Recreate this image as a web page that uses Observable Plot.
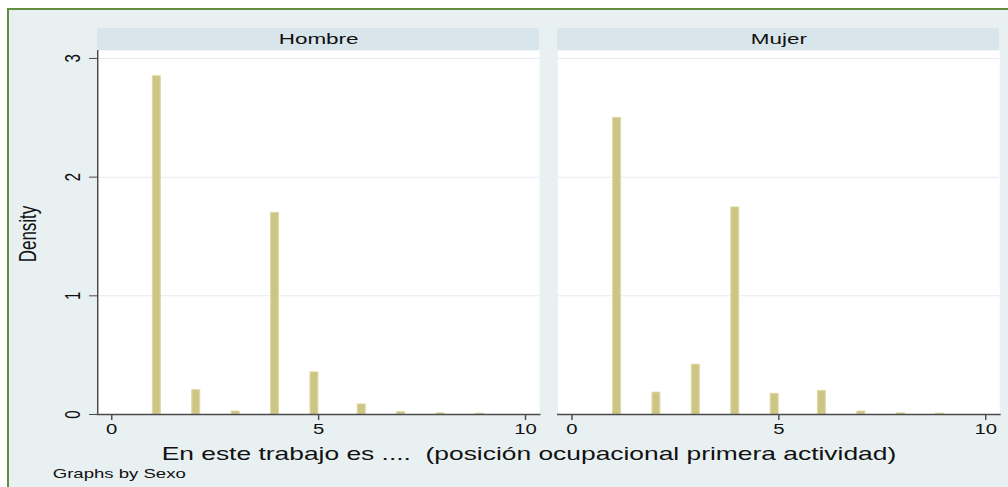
<!DOCTYPE html>
<html>
<head>
<meta charset="utf-8">
<script src="https://cdn.jsdelivr.net/npm/d3@7"></script>
<script src="https://cdn.jsdelivr.net/npm/@observablehq/plot@0.6"></script>
<style>
  html, body { margin: 0; padding: 0; background: #ffffff; }
  #wrap { position: relative; width: 1008px; height: 487px; overflow: hidden; }
  #bg { position: absolute; left: 7px; top: 8px; right: 0; bottom: 0;
        background: #e8f0f2; border-left: 2px solid #5f8f3f; border-top: 2px solid #5f8f3f; }
  #chart { position: absolute; left: 0; top: 0; }
  #chart svg text { white-space: pre; }
</style>
</head>
<body>
<div id="wrap"><div id="bg"></div><div id="chart"></div></div>
<script>
// ---- data ----
const panels = ["Hombre", "Mujer"];
const binStart = [1.000, 1.952, 2.905, 3.857, 4.810, 5.952, 6.905, 7.857, 8.810];
const binWidth = 0.1905;
const densityHombre = [2.85, 0.205, 0.025, 1.70, 0.355, 0.085, 0.02, 0.01, 0.008];
const densityMujer  = [2.50, 0.185, 0.42, 1.745, 0.175, 0.20, 0.025, 0.01, 0.008];
const xTicks = [0, 5, 10];
const yTicks = [0, 1, 2, 3];
const xLabel = "En este trabajo es ....  (posición ocupacional primera actividad)";
const yLabel = "Density";
const note = "Graphs by Sexo";

const rows = panels.flatMap((p, i) =>
  binStart.map((x0, j) => ({panel: p, x0, density: (i === 0 ? densityHombre : densityMujer)[j]})));

// horizontal stretch of the original Stata export
const S = 1.45;
const W = 1008 / S;
const H = 487;

const plot = Plot.plot({
  width: W,
  height: H,
  marginLeft: 97 / S,
  marginRight: 9 / S,
  marginTop: 50,
  marginBottom: 73,
  style: {background: "transparent", fontFamily: "'Liberation Sans', Arial, sans-serif", color: "#111", overflow: "visible"},
  fx: {domain: panels, axis: null, paddingInner: 0.04, paddingOuter: 0, round: false},
  x: {domain: [-0.339, 10.339]},
  y: {domain: [0, 3.067]},
  marks: [
    Plot.frame({fill: "white", stroke: null}),
    Plot.rect(panels, {fx: d => d, fill: "#d8e5ea", insetTop: -22, insetBottom: 364}),
    Plot.text(panels, {fx: d => d, text: d => d, frameAnchor: "top", dy: -11, lineAnchor: "middle", fontSize: 15.5, fill: "#111"}),
    Plot.gridY(yTicks.filter(t => t > 0), {stroke: "#e3ecef", strokeOpacity: 1, strokeWidth: 1}),
    Plot.rectY(rows, {fx: "panel", x1: "x0", x2: d => d.x0 + binWidth, y: "density",
      fill: "#cdc584", stroke: "#dfd9a6", strokeWidth: 0.8}),
    Plot.frame({anchor: "bottom", stroke: "#4a4a4a", strokeWidth: 1.3}),
    Plot.frame({anchor: "left", stroke: "#4a4a4a", strokeWidth: 1, facetAnchor: "left"}),
    Plot.axisX({ticks: xTicks, tickSize: 6, tickPadding: 4, fontSize: 14, stroke: "#4a4a4a", fill: "#111", label: null}),
    Plot.axisY({ticks: yTicks, tickFormat: d3.format("d"), tickSize: 5.5, tickPadding: 7, tickRotate: -90, fontSize: 15, stroke: "#4a4a4a", fill: "#111", label: null}),
    Plot.text([yLabel], {text: d => d, frameAnchor: "left", textAnchor: "middle", rotate: -90, dx: -48, dy: 1.5, lineAnchor: "middle", fontSize: 17, fill: "#111", facetAnchor: "left"}),
    Plot.text([xLabel], {text: d => d, frameAnchor: "bottom", textAnchor: "middle", dx: 210.3 / S, dy: 39.5, lineAnchor: "middle", fontSize: 18.2, fill: "#111", facetAnchor: "left"}),
    Plot.text([note], {text: d => d, frameAnchor: "bottom-left", textAnchor: "start", dx: (52 - 97) / S, dy: 59.5, lineAnchor: "middle", fontSize: 12.8, fill: "#111", facetAnchor: "left"})
  ]
});

plot.setAttribute("viewBox", `0 0 ${W} ${H}`);
plot.setAttribute("preserveAspectRatio", "none");
plot.setAttribute("width", 1008);
plot.setAttribute("height", 487);
plot.style.width = "1008px";
plot.style.height = "487px";
plot.style.maxWidth = "none";
document.getElementById("chart").appendChild(plot);
</script>
</body>
</html>
